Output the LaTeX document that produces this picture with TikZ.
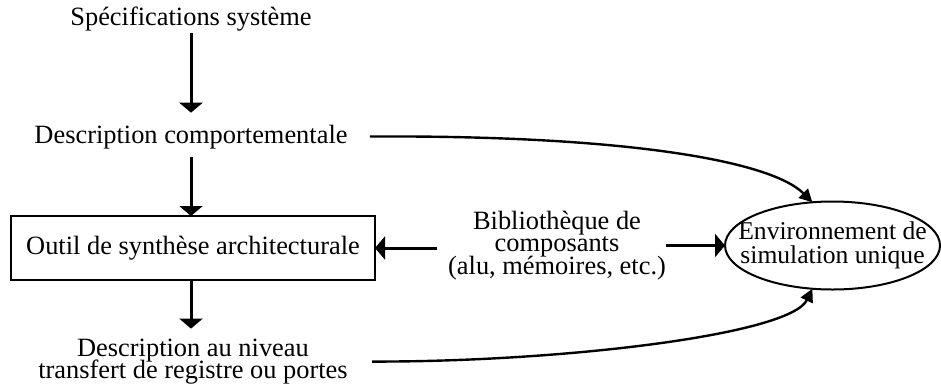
\documentclass[tikz,border=0pt]{standalone}
\usepackage{fontspec}
\setmainfont{Liberation Serif}
\usetikzlibrary{arrows.meta,shapes.geometric}
\newcommand{\txtfont}{\fontsize{13.2}{11.3}\selectfont\lineskiplimit-10pt\relax}
\newcommand{\envfont}{\fontsize{12.8}{12.3}\selectfont\lineskiplimit-10pt\relax}
\begin{document}
\begin{tikzpicture}[x=0.5pt,y=-0.5pt,
  txt/.style={inner sep=0pt, outer sep=0pt, align=center, font=\txtfont},
  arr/.style={line width=1.5pt, -{Triangle[width=11.5pt,length=5pt]}},
  carr/.style={line width=1.2pt, -{Triangle[width=6.5pt,length=6.5pt]}},
  boxed/.style={draw, line width=1pt, minimum width=182pt, minimum height=32pt},
  envshape/.style={draw, ellipse, line width=1pt, inner xsep=-12pt, inner ysep=0pt,
    minimum width=107.5pt, minimum height=44pt, font=\envfont}]
\useasboundingbox (0,0) rectangle (941,387);
\node[txt, anchor=base] (spec) at (191,25) {Spécifications système};
\node[txt, anchor=base] (desc) at (191,143) {Description comportementale};
\node[txt, boxed] (tool) at (193,248) {Outil de synthèse architecturale};
\node[txt] (rtl) at (193,361.5) {Description au niveau\\transfert de registre ou portes};
\node[txt] (lib) at (557,245.5) {Bibliothèque de\\composants\\(alu, mémoires, etc.)};
\node[txt, envshape] (env) at (832.5,245.5) {Environnement de\\simulation unique};
% vertical flow
\draw[arr, shorten <=1.15pt, shorten >=6pt] (spec.south) -- (spec.south |- desc.north);
\draw[arr, shorten <=4.15pt] (desc.south) -- (desc.south |- tool.north);
\draw[arr, shorten >=5pt] (tool.south -| desc.south) -- (desc.south |- rtl.north);
% library
\draw[arr, shorten <=5.5pt] (tool.east -| lib.west) -- (tool.east);
\draw[arr] (lib.east) -- (env.west);
% curves to the simulation environment
\draw[carr, shorten <=11.2pt] (desc.east) .. controls (620,135) and (770,160) .. (env.115);
\draw[carr, shorten <=12.2pt] (rtl.east) .. controls (560,362) and (790,335) .. (env.245);
\end{tikzpicture}
\end{document}
